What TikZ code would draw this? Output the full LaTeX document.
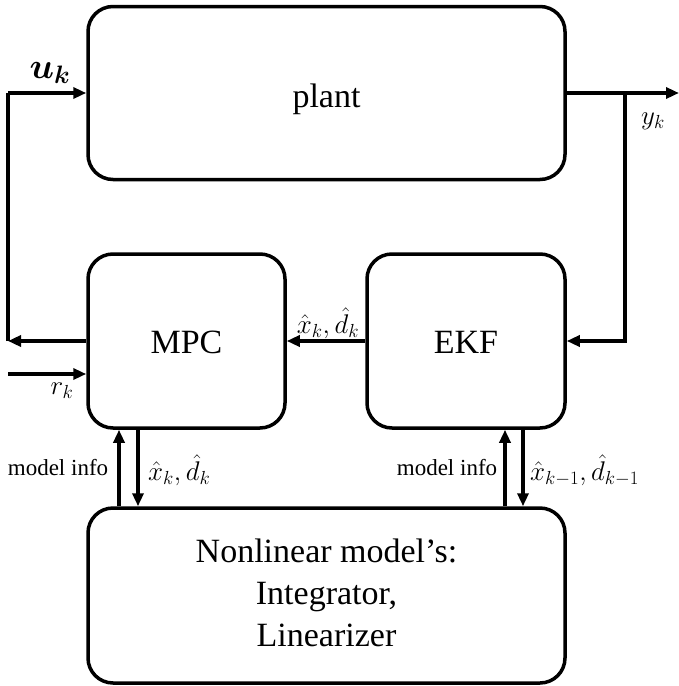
\RequirePackage{fix-cm}
\documentclass[tikz,border=0pt]{standalone}
\usepackage{fontspec}
\setmainfont{Liberation Serif}
\usetikzlibrary{arrows.meta}
\begin{document}
\begin{tikzpicture}[x=1pt,y=-1pt,
  blk/.style={draw, line width=3.5pt, rounded corners=25pt, inner sep=0pt},
  conn/.style={line width=3.5pt, -{Triangle[length=13pt,width=11pt]}},
  big/.style={font=\fontsize{34}{42}\selectfont},
  lbl/.style={font=\fontsize{23}{27}\selectfont, inner sep=0pt},
  mlbl/.style={font=\fontsize{27}{31}\selectfont, inner sep=0pt}]
\useasboundingbox (0,0) rectangle (678,686);
% blocks
\node[blk, minimum width=477, minimum height=173] (plant) at (326.5,93) {};
\node[big] (plantt) at (326.5,99) {plant};
\node[blk, minimum width=197, minimum height=174] (mpc) at (186.5,341) {};
\node[big] (mpct) at (186.5,342) {MPC};
\node[blk, minimum width=198, minimum height=174] (ekf) at (466,341) {};
\node[big] (ekft) at (466,342) {EKF};
\node[blk, minimum width=477, minimum height=175] (bot) at (326.5,595.5) {};
\node[big, align=center] (bott) at (326.5,593) {Nonlinear model’s:\\Integrator,\\Linearizer};
% coordinates
\coordinate (uL) at (8,341);
\coordinate (rin) at (8,374);
\coordinate (yend) at (679,93);
\coordinate (yb) at (625,93);
\coordinate (m1) at (119,0);
\coordinate (m2) at (138,0);
\coordinate (e1) at (505,0);
\coordinate (e2) at (523,0);
% u_k loop
\draw[conn] (mpc.west) -- (uL);
\draw[line width=3.5pt] (uL) -- (8,93) coordinate (uc);
\draw[conn] (uc) -- (plant.west);
\node[big, font=\fontsize{36}{42}\selectfont\boldmath] (ukl) at (50,73) {$u_k$};
% y_k
\draw[conn] (plant.east) -- (yend);
\draw[conn] (yb) |- (ekf.east);
\node[mlbl] (ykl) at (653,121) {$y_k$};
% r_k
\draw[conn] (rin) -- (rin -| mpc.west);
\node[mlbl] (rkl) at (62,391) {$r_k$};
% EKF -> MPC
\draw[conn] (ekf.west) -- (mpc.east);
\node[mlbl] (el) at (328,323) {$\hat{x}_k,\hat{d}_k$};
% vertical arrows MPC
\draw[conn] (m1 |- bot.north) -- (m1 |- mpc.south);
\draw[conn] (m2 |- mpc.south) -- (m2 |- bot.north);
\node[lbl] (mi1) at (58,468) {model info};
\node[mlbl, anchor=west] (xl1) at (148,470) {$\hat{x}_k,\hat{d}_k$};
% vertical arrows EKF
\draw[conn] (e1 |- bot.north) -- (e1 |- ekf.south);
\draw[conn] (e2 |- ekf.south) -- (e2 |- bot.north);
\node[lbl] (mi2) at (447,468) {model info};
\node[mlbl, anchor=west] (xl2) at (530,470) {$\hat{x}_{k-1},\hat{d}_{k-1}$};
\end{tikzpicture}
\end{document}
